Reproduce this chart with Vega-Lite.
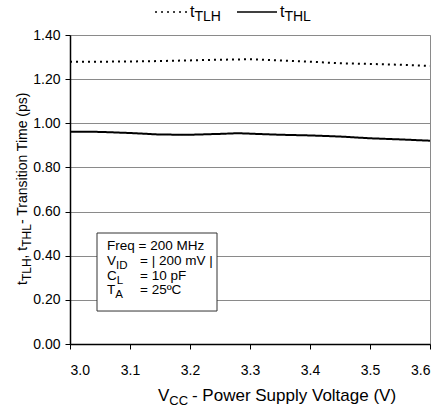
{
  "$schema": "https://vega.github.io/schema/vega-lite/v6.json",
  "width": 360,
  "height": 309,
  "autosize": {"type": "none"},
  "padding": {"left": 70, "top": 35, "right": 10, "bottom": 67},
  "background": "white",
  "config": {
    "view": {"stroke": "#8a8a8a", "strokeWidth": 1},
    "font": "Liberation Sans",
    "axis": {"labelFont": "Liberation Sans", "labelFontSize": 14, "labelColor": "black", "domainColor": "black", "domainWidth": 1.5, "tickColor": "black", "tickSize": 5, "title": null}
  },
  "encoding": {
    "x": {"field": "x", "type": "quantitative", "scale": {"domain": [3.0, 3.6], "nice": false, "zero": false},
      "axis": {"values": [3.0, 3.1, 3.2, 3.3, 3.4, 3.5, 3.6], "format": ".1f", "grid": false, "labelPadding": 14, "title": null}},
    "y": {"field": "y", "type": "quantitative", "scale": {"domain": [0, 1.4], "nice": false, "zero": true},
      "axis": {"values": [0, 0.2, 0.4, 0.6, 0.8, 1.0, 1.2, 1.4], "format": ".2f", "grid": true, "gridColor": "#8a8a8a", "gridWidth": 1, "labelPadding": 5, "title": null}}
  },
  "layer": [
    {
      "data": {"values": [
        {"series": "tTLH", "x": 3.0, "y": 1.279}, {"series": "tTLH", "x": 3.05, "y": 1.279}, {"series": "tTLH", "x": 3.1, "y": 1.28},
        {"series": "tTLH", "x": 3.15, "y": 1.282}, {"series": "tTLH", "x": 3.2, "y": 1.285}, {"series": "tTLH", "x": 3.25, "y": 1.288},
        {"series": "tTLH", "x": 3.3, "y": 1.29}, {"series": "tTLH", "x": 3.35, "y": 1.285}, {"series": "tTLH", "x": 3.4, "y": 1.279},
        {"series": "tTLH", "x": 3.45, "y": 1.272}, {"series": "tTLH", "x": 3.5, "y": 1.269}, {"series": "tTLH", "x": 3.55, "y": 1.265},
        {"series": "tTLH", "x": 3.6, "y": 1.26},
        {"series": "tTHL", "x": 3.0, "y": 0.962}, {"series": "tTHL", "x": 3.05, "y": 0.961}, {"series": "tTHL", "x": 3.1, "y": 0.956},
        {"series": "tTHL", "x": 3.15, "y": 0.949}, {"series": "tTHL", "x": 3.2, "y": 0.948}, {"series": "tTHL", "x": 3.25, "y": 0.952},
        {"series": "tTHL", "x": 3.28, "y": 0.955}, {"series": "tTHL", "x": 3.3, "y": 0.953}, {"series": "tTHL", "x": 3.35, "y": 0.948},
        {"series": "tTHL", "x": 3.4, "y": 0.945}, {"series": "tTHL", "x": 3.45, "y": 0.94}, {"series": "tTHL", "x": 3.5, "y": 0.932},
        {"series": "tTHL", "x": 3.55, "y": 0.927}, {"series": "tTHL", "x": 3.6, "y": 0.921}
      ]},
      "mark": {"type": "line", "color": "black", "strokeWidth": 2},
      "encoding": {
        "detail": {"field": "series"},
        "strokeDash": {"field": "series", "type": "nominal", "scale": {"domain": ["tTLH", "tTHL"], "range": [[2, 4], [1, 0]]}, "legend": null}
      }
    },
    {
      "data": {"values": [
        {"series": "tTLH", "x": 3.1417, "x2": 3.1967, "y": 1.5042},
        {"series": "tTHL", "x": 3.2783, "x2": 3.345, "y": 1.5042}
      ]},
      "mark": {"type": "rule", "color": "black", "strokeWidth": 1.5, "clip": false},
      "encoding": {
        "x2": {"field": "x2"},
        "strokeDash": {"field": "series", "type": "nominal", "scale": {"domain": ["tTLH", "tTHL"], "range": [[2, 4], [1, 0]]}, "legend": null}
      }
    },
    {
      "data": {"values": [{"x": 3.045, "x2": 3.245, "y": 0.1494, "y2": 0.5029}]},
      "mark": {"type": "rect", "fill": "white", "stroke": "#333333", "strokeWidth": 1},
      "encoding": {"x2": {"field": "x2"}, "y2": {"field": "y2"}}
    },
    {
      "data": {"values": [
        {"x": 3.0617, "y": 0.4258, "t": "Freq = 200 MHz"},
        {"x": 3.0617, "y": 0.3579, "t": "V"},
        {"x": 3.1167, "y": 0.3579, "t": "= | 200 mV |"},
        {"x": 3.0617, "y": 0.2899, "t": "C"},
        {"x": 3.1167, "y": 0.2899, "t": "= 10 pF"},
        {"x": 3.0617, "y": 0.2265, "t": "T"},
        {"x": 3.1167, "y": 0.2265, "t": "= 25ºC"}
      ]},
      "mark": {"type": "text", "align": "left", "baseline": "alphabetic", "fontSize": 13.5, "color": "black", "font": "Liberation Sans"},
      "encoding": {"text": {"field": "t"}}
    },
    {
      "data": {"values": [
        {"x": 3.0767, "y": 0.342, "t": "ID"},
        {"x": 3.0780, "y": 0.274, "t": "L"},
        {"x": 3.0755, "y": 0.2106, "t": "A"}
      ]},
      "mark": {"type": "text", "align": "left", "baseline": "alphabetic", "fontSize": 11.5, "color": "black", "font": "Liberation Sans"},
      "encoding": {"text": {"field": "t"}}
    },
    {
      "data": {"values": [
        {"x": 3.2, "y": 1.4816, "t": "t"},
        {"x": 3.35, "y": 1.4816, "t": "t"}
      ]},
      "mark": {"type": "text", "align": "left", "baseline": "alphabetic", "fontSize": 16, "color": "black", "font": "Liberation Sans"},
      "encoding": {"text": {"field": "t"}}
    },
    {
      "data": {"values": [
        {"x": 3.2073, "y": 1.4634, "t": "TLH"},
        {"x": 3.3573, "y": 1.4634, "t": "THL"}
      ]},
      "mark": {"type": "text", "align": "left", "baseline": "alphabetic", "fontSize": 14, "color": "black", "font": "Liberation Sans"},
      "encoding": {"text": {"field": "t"}}
    },
    {
      "data": {"values": [
        {"x": 3.1467, "y": -0.2584, "t": "V"},
        {"x": 3.2033, "y": -0.2584, "t": "- Power Supply Voltage (V)"}
      ]},
      "mark": {"type": "text", "align": "left", "baseline": "alphabetic", "fontSize": 17, "color": "black", "font": "Liberation Sans"},
      "encoding": {"text": {"field": "t"}}
    },
    {
      "data": {"values": [
        {"x": 3.1655, "y": -0.2765, "t": "CC"}
      ]},
      "mark": {"type": "text", "align": "left", "baseline": "alphabetic", "fontSize": 13, "color": "black", "font": "Liberation Sans"},
      "encoding": {"text": {"field": "t"}}
    },
    {
      "data": {"values": [
        {"x": 2.9283, "y": 0.2672, "t": "t"},
        {"x": 2.9283, "y": 0.3878, "t": ", t"},
        {"x": 2.9283, "y": 0.5436, "t": " - Transition Time (ps)"}
      ]},
      "mark": {"type": "text", "align": "left", "baseline": "alphabetic", "angle": 270, "fontSize": 14, "color": "black", "font": "Liberation Sans"},
      "encoding": {"text": {"field": "t"}}
    },
    {
      "data": {"values": [
        {"x": 2.935, "y": 0.2849, "t": "TLH"},
        {"x": 2.935, "y": 0.4408, "t": "THL"}
      ]},
      "mark": {"type": "text", "align": "left", "baseline": "alphabetic", "angle": 270, "fontSize": 12, "color": "black", "font": "Liberation Sans"},
      "encoding": {"text": {"field": "t"}}
    }
  ]
}
